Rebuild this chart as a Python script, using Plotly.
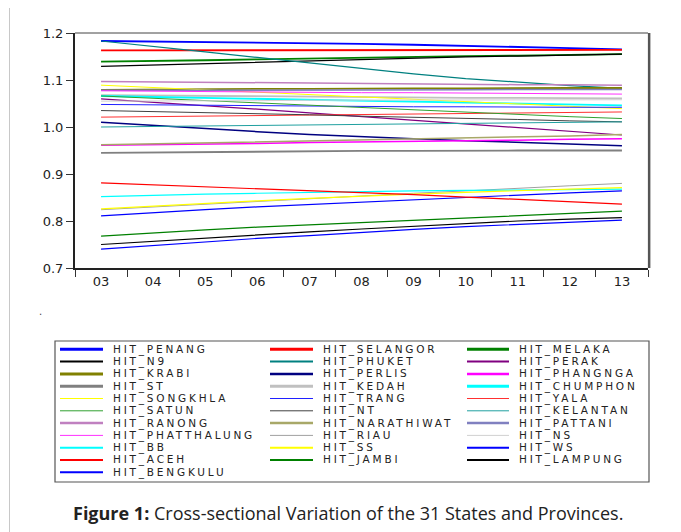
import plotly.graph_objects as go

years = ["03", "04", "05", "06", "07", "08", "09", "10", "11", "12", "13"]

series_names = [
    "HIT_PENANG", "HIT_SELANGOR", "HIT_MELAKA", "HIT_N9", "HIT_PHUKET", "HIT_PERAK",
    "HIT_KRABI", "HIT_PERLIS", "HIT_PHANGNGA", "HIT_ST", "HIT_KEDAH", "HIT_CHUMPHON",
    "HIT_SONGKHLA", "HIT_TRANG", "HIT_YALA", "HIT_SATUN", "HIT_NT", "HIT_KELANTAN",
    "HIT_RANONG", "HIT_NARATHIWAT", "HIT_PATTANI", "HIT_PHATTHALUNG", "HIT_RIAU", "HIT_NS",
    "HIT_BB", "HIT_SS", "HIT_WS", "HIT_ACEH", "HIT_JAMBI", "HIT_LAMPUNG", "HIT_BENGKULU",
]

hit_penang = [1.183, 1.182, 1.181, 1.180, 1.179, 1.177, 1.175, 1.173, 1.170, 1.168, 1.165]
hit_selangor = [1.163, 1.163, 1.163, 1.163, 1.163, 1.163, 1.163, 1.164, 1.164, 1.164, 1.164]
hit_melaka = [1.139, 1.140, 1.142, 1.144, 1.146, 1.148, 1.150, 1.151, 1.152, 1.154, 1.155]
hit_n9 = [1.129, 1.132, 1.135, 1.138, 1.141, 1.144, 1.147, 1.149, 1.151, 1.153, 1.155]
hit_phuket = [1.183, 1.172, 1.160, 1.148, 1.136, 1.124, 1.113, 1.103, 1.095, 1.088, 1.082]
hit_perak = [1.060, 1.053, 1.045, 1.038, 1.030, 1.022, 1.014, 1.006, 0.998, 0.990, 0.983]
hit_krabi = [1.079, 1.080, 1.080, 1.081, 1.081, 1.082, 1.082, 1.082, 1.083, 1.083, 1.083]
hit_perlis = [1.010, 1.003, 0.996, 0.990, 0.984, 0.979, 0.975, 0.971, 0.967, 0.963, 0.960]
hit_phangnga = [0.961, 0.962, 0.964, 0.965, 0.967, 0.968, 0.970, 0.971, 0.972, 0.974, 0.975]
hit_st = [0.945, 0.946, 0.947, 0.948, 0.948, 0.949, 0.949, 0.950, 0.950, 0.950, 0.950]
hit_kedah = [1.068, 1.067, 1.066, 1.065, 1.064, 1.063, 1.063, 1.062, 1.062, 1.061, 1.061]
hit_chumphon = [1.066, 1.064, 1.062, 1.060, 1.058, 1.056, 1.054, 1.052, 1.050, 1.048, 1.046]
hit_songkhla = [1.089, 1.084, 1.078, 1.073, 1.068, 1.063, 1.058, 1.053, 1.048, 1.044, 1.039]
hit_trang = [1.048, 1.047, 1.046, 1.045, 1.044, 1.044, 1.043, 1.043, 1.042, 1.042, 1.042]
hit_yala = [1.021, 1.022, 1.023, 1.024, 1.025, 1.026, 1.027, 1.028, 1.029, 1.030, 1.032]
hit_satun = [1.066, 1.061, 1.056, 1.051, 1.046, 1.041, 1.036, 1.031, 1.026, 1.022, 1.018]
hit_nt = [1.035, 1.033, 1.030, 1.028, 1.026, 1.023, 1.021, 1.018, 1.016, 1.013, 1.011]
hit_kelantan = [1.000, 1.001, 1.002, 1.003, 1.004, 1.005, 1.006, 1.007, 1.008, 1.010, 1.011]
hit_ranong = [1.097, 1.096, 1.095, 1.094, 1.094, 1.093, 1.092, 1.091, 1.090, 1.090, 1.089]
hit_narathiwat = [0.962, 0.964, 0.966, 0.968, 0.970, 0.972, 0.975, 0.977, 0.979, 0.981, 0.984]
hit_pattani = [1.078, 1.078, 1.078, 1.079, 1.079, 1.079, 1.079, 1.079, 1.080, 1.080, 1.080]
hit_phatthalung = [1.077, 1.076, 1.076, 1.075, 1.074, 1.073, 1.073, 1.072, 1.071, 1.071, 1.070]
hit_riau = [0.824, 0.830, 0.836, 0.842, 0.848, 0.853, 0.859, 0.864, 0.870, 0.875, 0.880]
hit_ns = [1.055, 1.055, 1.056, 1.056, 1.057, 1.057, 1.057, 1.058, 1.058, 1.058, 1.058]
hit_bb = [0.852, 0.855, 0.857, 0.859, 0.861, 0.863, 0.864, 0.865, 0.866, 0.867, 0.868]
hit_ss = [0.826, 0.832, 0.838, 0.843, 0.848, 0.853, 0.857, 0.861, 0.865, 0.868, 0.871]
hit_ws = [0.811, 0.818, 0.824, 0.830, 0.835, 0.841, 0.845, 0.850, 0.855, 0.860, 0.864]
hit_aceh = [0.881, 0.877, 0.873, 0.868, 0.864, 0.860, 0.856, 0.851, 0.846, 0.841, 0.836]
hit_jambi = [0.768, 0.775, 0.781, 0.787, 0.792, 0.797, 0.802, 0.807, 0.812, 0.817, 0.821]
hit_lampung = [0.750, 0.757, 0.764, 0.771, 0.777, 0.783, 0.789, 0.795, 0.800, 0.804, 0.807]
hit_bengkulu = [0.740, 0.748, 0.756, 0.763, 0.769, 0.776, 0.782, 0.788, 0.793, 0.798, 0.802]

series_values = [
    hit_penang, hit_selangor, hit_melaka, hit_n9, hit_phuket, hit_perak,
    hit_krabi, hit_perlis, hit_phangnga, hit_st, hit_kedah, hit_chumphon,
    hit_songkhla, hit_trang, hit_yala, hit_satun, hit_nt, hit_kelantan,
    hit_ranong, hit_narathiwat, hit_pattani, hit_phatthalung, hit_riau, hit_ns,
    hit_bb, hit_ss, hit_ws, hit_aceh, hit_jambi, hit_lampung, hit_bengkulu,
]

series_colors = [
    "#0000FF", "#FF0000", "#008000", "#000000", "#008080", "#800080",
    "#808000", "#000080", "#FF00FF", "#808080", "#C0C0C0", "#00FFFF",
    "#FFFF00", "#2020FF", "#FF3030", "#30A030", "#404040", "#20A0A0",
    "#C080C0", "#A8A868", "#8080C0", "#FF30FF", "#A0A0A0", "#D0D0D0",
    "#00FFFF", "#FFFF00", "#0000FF", "#FF0000", "#008000", "#000000", "#0000FF",
]

# legend swatch widths (plot widths are scaled down)
series_widths = [
    3, 3, 3, 2, 2, 2,
    3, 2.5, 2.5, 3, 3, 3,
    1, 1, 1, 1, 1, 1,
    2.5, 2.5, 2.5, 1, 1, 1,
    2, 2, 2, 2, 2, 2, 2,
]

# the page body has an 8px margin; work in screenshot pixels and shift
OFF = 8
W, H = 681 - OFF, 532 - OFF
L, R, T, B = 75 - OFF, 648 - OFF, 33 - OFF, 268 - OFF


def px(xp):
    return (xp - OFF - L) / (R - L)


def py(yp):
    return (B - (yp - OFF)) / (B - T)


fig = go.Figure()
for name, vals, col, w in zip(series_names, series_values, series_colors, series_widths):
    fig.add_trace(go.Scatter(
        x=years, y=vals, mode="lines", name=name,
        line=dict(color=col, width=max(1.0, w * 0.6)),
        hoverinfo="skip", showlegend=False,
    ))

shapes = []
annotations = []

# frame: top thin, right thick shadow
shapes.append(dict(type="line", xref="paper", yref="paper", x0=0, x1=1, y0=1, y1=1,
                   line=dict(color="#444", width=1)))
shapes.append(dict(type="line", xref="paper", yref="paper", x0=1.002, x1=1.002, y0=0, y1=1,
                   line=dict(color="#555", width=2.5)))

# legend box
lx0, lx1, ly0, ly1 = 55, 649, 341, 482
shapes.append(dict(type="rect", xref="paper", yref="paper",
                   x0=px(lx0), x1=px(lx1), y0=py(ly1), y1=py(ly0),
                   line=dict(color="#555", width=1.2), fillcolor="rgba(0,0,0,0)"))

col_line_x = [(60, 103), (270, 313), (467, 509)]
col_text_x = [112, 322, 518]
row0, row_step = 349.3, 12.3
for i, (name, col, w) in enumerate(zip(series_names, series_colors, series_widths)):
    r, c = divmod(i, 3)
    yy = row0 + r * row_step
    shapes.append(dict(type="line", xref="paper", yref="paper",
                       x0=px(col_line_x[c][0]), x1=px(col_line_x[c][1]),
                       y0=py(yy), y1=py(yy), line=dict(color=col, width=w)))
    annotations.append(dict(xref="paper", yref="paper", x=px(col_text_x[c]), y=py(yy),
                            text='<span style="letter-spacing:2.8px">' + name + "</span>",
                            showarrow=False, xanchor="left", yanchor="middle", borderpad=0,
                            font=dict(family="DejaVu Sans", size=10.5, color="#222")))

# stray dot
annotations.append(dict(xref="paper", yref="paper", x=px(37), y=py(319), text=".",
                        showarrow=False, font=dict(size=10, color="#444")))

# left page border
shapes.append(dict(type="line", xref="paper", yref="paper", x0=px(9.5), x1=px(9.5),
                   y0=py(0), y1=py(540), line=dict(color="#C8C8C8", width=1)))

# caption
annotations.append(dict(xref="paper", yref="paper", x=px(348), y=py(513),
                        text="<b>Figure 1:</b> Cross-sectional Variation of the 31 States and Provinces.",
                        showarrow=False, xanchor="center", yanchor="middle",
                        font=dict(family="Open Sans", size=18, color="#222")))

fig.update_layout(
    width=W, height=H,
    margin=dict(l=L, r=W - R, t=T, b=H - B),
    paper_bgcolor="white", plot_bgcolor="white",
    showlegend=False,
    shapes=shapes, annotations=annotations,
    xaxis=dict(type="category", categoryorder="array", categoryarray=years,
               range=[-0.5, 10.5], tickson="boundaries", ticks="outside", ticklen=7,
               tickcolor="#333", tickwidth=1, showline=True, linecolor="#222", linewidth=2,
               showgrid=False, zeroline=False,
               tickfont=dict(family="DejaVu Sans", size=13, color="#222")),
    yaxis=dict(range=[0.7, 1.2], dtick=0.1, tick0=0.7, tickformat=".1f",
               ticks="outside", ticklen=7, tickcolor="#333", tickwidth=1,
               showline=True, linecolor="#222", linewidth=2,
               showgrid=False, zeroline=False,
               tickfont=dict(family="DejaVu Sans", size=13, color="#222")),
    font=dict(family="DejaVu Sans"),
)

fig.write_html("out.html")
